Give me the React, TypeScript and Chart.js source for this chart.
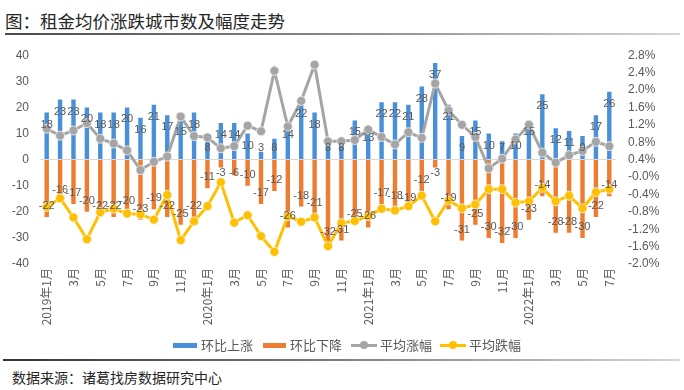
import React, { useEffect, useRef } from "react";
import { Chart, registerables } from "chart.js";

Chart.register(...registerables);

const categories = [
  "2019年1月", "2月", "3月", "4月", "5月", "6月", "7月", "8月", "9月", "10月", "11月", "12月",
  "2020年1月", "2月", "3月", "4月", "5月", "6月", "7月", "8月", "9月", "10月", "11月", "12月",
  "2021年1月", "2月", "3月", "4月", "5月", "6月", "7月", "8月", "9月", "10月", "11月", "12月",
  "2022年1月", "2月", "3月", "4月", "5月", "6月", "7月",
];

const riseCount = [
  18, 23, 23, 20, 18, 18, 20, 16, 21, 17, 15, 18,
  8, 14, 14, 10, 3, 8, 14, 22, 18, 8, 8, 15,
  13, 22, 22, 21, 28, 37, 21, 9, 15, 10, 7, 10,
  15, 25, 12, 11, 9, 17, 26,
];

const fallCount = [
  -22, -16, -17, -20, -22, -22, -20, -23, -19, -22, -25, -22,
  -11, -3, -6, -10, -17, -12, -26, -18, -21, -32, -31, -25,
  -26, -17, -18, -19, -12, -3, -19, -31, -25, -30, -32, -30,
  -23, -14, -28, -28, -30, -22, -14,
];

// percent values
const avgRise = [
  1.11, 0.95, 1.07, 1.24, 0.88, 0.77, 0.61, 0.16, 0.35, 0.47, 1.39, 0.94,
  0.91, 0.66, 0.71, 1.18, 1.05, 2.44, 1.16, 1.75, 2.58, 0.82, 0.82, 0.85,
  1.09, 0.92, 0.75, 1.03, 0.9, 2.15, 1.53, 1.2, 0.92, 0.2, 0.42, 0.86,
  1.2, 0.56, 0.33, 0.5, 0.6, 0.81, 0.71,
];

const avgFall = [
  -0.69, -0.49, -0.93, -1.43, -0.81, -0.73, -0.84, -0.86, -0.98, -0.41, -1.45, -1.02,
  -0.67, -0.12, -1.05, -0.88, -1.36, -1.72, -0.9, -1.03, -0.93, -1.59, -1.06, -1.01,
  -0.9, -0.73, -0.77, -0.67, -0.43, -1.02, -0.54, -0.72, -0.63, -0.28, -0.28, -0.59,
  -0.56, -0.25, -0.56, -0.43, -0.72, -0.35, -0.28,
];

const seriesNames = ["环比上涨", "环比下降", "平均涨幅", "平均跌幅"];
const colors = ["#4A90D9", "#ED7D31", "#A5A5A5", "#FFC000"];

const FONT = '"Liberation Sans", "Noto Sans CJK SC", sans-serif';
const CJK = '"Noto Sans CJK SC", "Liberation Sans", sans-serif';

const barLabelPlugin = {
  id: "barLabels",
  afterDatasetsDraw(chart: any) {
    const ctx = chart.ctx;
    const zero = chart.scales.y.getPixelForValue(0);
    ctx.save();
    ctx.font = "11px " + FONT;
    ctx.fillStyle = "#595959";
    ctx.textAlign = "center";
    ctx.textBaseline = "middle";
    [0, 1].forEach((di) => {
      const meta = chart.getDatasetMeta(di);
      meta.data.forEach((el: any, i: number) => {
        const v = chart.data.datasets[di].data[i];
        const y = v >= 0 ? Math.min(el.y + 12, zero - 12) : Math.max(el.y - 11, zero + 13);
        ctx.fillText(String(v), el.x, y);
      });
    });
    ctx.restore();
  },
};

export default function App() {
  const ref = useRef<HTMLCanvasElement>(null);

  useEffect(() => {
    if (!ref.current) return;
    const chart = new Chart(ref.current, {
      type: "bar",
      data: {
        labels: categories,
        datasets: [
          {
            type: "bar",
            label: seriesNames[0],
            data: riseCount,
            backgroundColor: colors[0],
            yAxisID: "y",
            grouped: false,
            order: 3,
            categoryPercentage: 1,
            barPercentage: 0.33,
          } as any,
          {
            type: "bar",
            label: seriesNames[1],
            data: fallCount,
            backgroundColor: colors[1],
            yAxisID: "y",
            grouped: false,
            order: 3,
            categoryPercentage: 1,
            barPercentage: 0.33,
          } as any,
          {
            type: "line",
            label: seriesNames[2],
            data: avgRise,
            borderColor: colors[2],
            backgroundColor: colors[2],
            borderWidth: 3,
            pointRadius: 4.5,
            pointBorderWidth: 1,
            pointBorderColor: "rgba(235,235,235,0.9)",
            pointBackgroundColor: colors[2],
            yAxisID: "y1",
            order: 1,
            tension: 0,
          } as any,
          {
            type: "line",
            label: seriesNames[3],
            data: avgFall,
            borderColor: colors[3],
            backgroundColor: colors[3],
            borderWidth: 3,
            pointRadius: 4.5,
            pointBorderWidth: 1,
            pointBorderColor: "rgba(240,240,220,0.9)",
            pointBackgroundColor: colors[3],
            yAxisID: "y1",
            order: 0,
            tension: 0,
          } as any,
        ],
      },
      options: {
        responsive: false,
        animation: false,
        layout: { padding: { top: 17, left: 0, right: 0, bottom: 0 } },
        plugins: {
          legend: { display: false },
          tooltip: { enabled: false },
          title: { display: false },
        },
        scales: {
          x: {
            offset: true,
            grid: { display: false, drawTicks: false },
            border: { display: false },
            ticks: {
              autoSkip: false,
              maxRotation: 90,
              minRotation: 90,
              padding: 4,
              color: "#595959",
              font: { size: 12, family: CJK },
              callback: (_v: any, i: number) => (i % 2 === 0 ? categories[i] : ""),
            },
            afterFit: (s: any) => {
              s.height = 72;
            },
          },
          y: {
            position: "left",
            min: -40,
            max: 40,
            border: { display: false },
            grid: {
              drawTicks: false,
              color: (c: any) => (c.tick && c.tick.value === 0 ? "#D9D9D9" : "rgba(0,0,0,0)"),
            },
            ticks: {
              stepSize: 10,
              padding: 11,
              color: "#595959",
              font: { size: 12, family: FONT },
            },
            afterFit: (s: any) => {
              s.width = 40;
            },
          },
          y1: {
            position: "right",
            min: -2.0,
            max: 2.8,
            border: { display: false },
            grid: { display: false, drawTicks: false },
            ticks: {
              stepSize: 0.4,
              padding: 12,
              color: "#595959",
              font: { size: 12, family: FONT },
              callback: (v: any) => Number(v).toFixed(1) + "%",
            },
            afterFit: (s: any) => {
              s.width = 68;
            },
          },
        },
      } as any,
      plugins: [barLabelPlugin],
    });
    return () => chart.destroy();
  }, []);

  const textStyle: React.CSSProperties = { fontSize: 13, color: "#595959", whiteSpace: "nowrap", lineHeight: "16px" };
  const boxMarker = (c: string, w: number) => (
    <div style={{ width: w, height: 5, background: c, marginRight: 4 }} />
  );
  const lineMarker = (c: string) => (
    <div style={{ position: "relative", width: 26, height: 10, marginRight: 3 }}>
      <div style={{ position: "absolute", left: 0, right: 0, top: 4, height: 2.5, background: c }} />
      <div style={{ position: "absolute", left: 9, top: 1, width: 8, height: 8, borderRadius: 4, background: c }} />
    </div>
  );

  return (
    <div
      style={{
        position: "absolute",
        left: 0,
        top: 0,
        width: 684,
        height: 390,
        background: "#fff",
        fontFamily: CJK,
        overflow: "hidden",
      }}
    >
      <div
        style={{
          position: "absolute",
          left: 5,
          top: 10,
          fontSize: 17.5,
          lineHeight: "22px",
          color: "#262626",
          whiteSpace: "nowrap",
        }}
      >
        图：租金均价涨跌城市数及幅度走势
      </div>
      <div
        style={{
          position: "absolute",
          left: 5,
          top: 33,
          width: 675,
          height: 1.5,
          background: "linear-gradient(to right, #4a4a4a, #8a8a8a 50%, #d6d6d6)",
        }}
      />
      <canvas ref={ref} width={684} height={300} style={{ position: "absolute", left: 0, top: 36 }} />
      <div
        style={{
          position: "absolute",
          left: 173,
          top: 337,
          height: 16,
          display: "flex",
          alignItems: "center",
        }}
      >
        {boxMarker(colors[0], 24)}
        <span style={{ ...textStyle, marginRight: 10 }}>{seriesNames[0]}</span>
        {boxMarker(colors[1], 23)}
        <span style={{ ...textStyle, marginRight: 9 }}>{seriesNames[1]}</span>
        {lineMarker(colors[2])}
        <span style={{ ...textStyle, marginRight: 8 }}>{seriesNames[2]}</span>
        {lineMarker(colors[3])}
        <span style={textStyle}>{seriesNames[3]}</span>
      </div>
      <div
        style={{
          position: "absolute",
          left: 3,
          top: 359,
          width: 677,
          height: 1.5,
          background: "linear-gradient(to right, #333, #777 45%, #d6d6d6)",
        }}
      />
      <div
        style={{
          position: "absolute",
          left: 12,
          top: 368,
          fontSize: 14,
          lineHeight: "18px",
          color: "#262626",
          whiteSpace: "nowrap",
        }}
      >
        数据来源：诸葛找房数据研究中心
      </div>
    </div>
  );
}
